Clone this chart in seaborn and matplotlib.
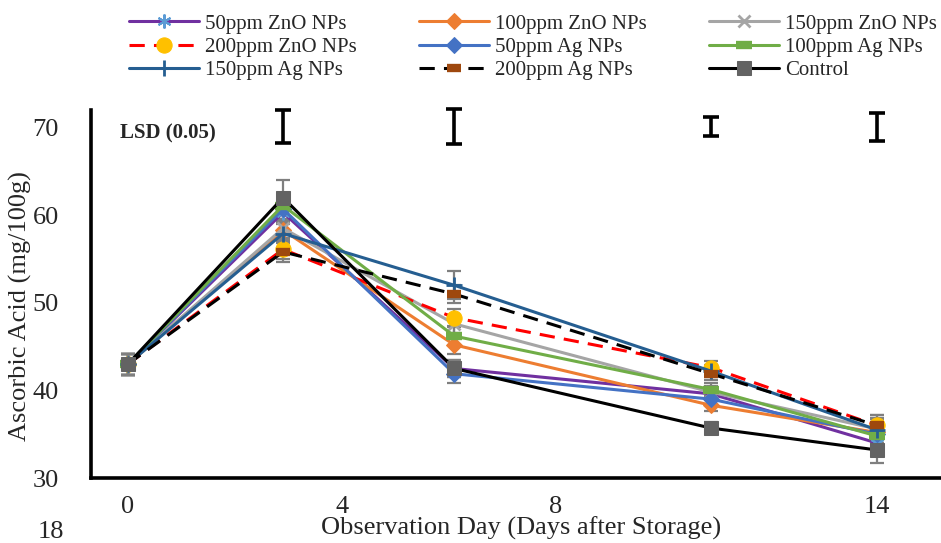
import matplotlib
matplotlib.use("Agg")
import matplotlib.pyplot as plt
import seaborn as sns
import pandas as pd

# Storage days at which ascorbic acid was measured
days = [0, 2.9, 6.1, 10.9, 14]
tick_days = [0, 4, 8, 14]

# Ascorbic acid (mg/100g) per treatment
zno_50 = [43.0, 60.3, 42.5, 39.6, 34.0]
zno_100 = [43.0, 58.3, 45.2, 38.3, 35.2]
zno_150 = [43.0, 58.5, 47.6, 39.8, 35.6]
zno_200 = [43.0, 56.1, 48.3, 42.6, 36.0]
ag_50 = [43.0, 60.7, 41.9, 39.0, 35.0]
ag_100 = [43.0, 61.1, 46.2, 40.1, 34.8]
ag_150 = [43.0, 57.9, 52.0, 42.2, 35.5]
ag_200 = [43.0, 55.8, 51.0, 41.9, 36.0]
control = [43.0, 62.0, 42.5, 35.7, 33.2]

# Standard errors
err_treat = [1.2, 1.1, 1.0, 0.7, 1.2]
err_150ag = [1.2, 1.1, 1.6, 0.7, 1.2]
err_control = [1.2, 2.0, 1.0, 0.7, 1.5]

# LSD (0.05) per sampling day (full bar length)
lsd_days = [2.9, 6.1, 10.9, 14]
lsd_values = [3.8, 4.0, 2.2, 3.2]

labels = ["50ppm ZnO NPs", "100ppm ZnO NPs", "150ppm ZnO NPs",
          "200ppm ZnO NPs", "50ppm Ag NPs", "100ppm Ag NPs",
          "150ppm Ag NPs", "200ppm Ag NPs", "Control"]
series = [zno_50, zno_100, zno_150, zno_200, ag_50, ag_100, ag_150, ag_200, control]
errors = [err_treat] * 6 + [err_150ag, err_treat, err_control]

styles = [
    dict(color="#7030A0", marker=(6, 2, 0), mfc="#5B9BD5", mec="#5B9BD5", ms=10, mew=1.5),
    dict(color="#ED7D31", marker="D", mfc="#ED7D31", mec="#ED7D31", ms=8),
    dict(color="#A5A5A5", marker="x", mfc="#A5A5A5", mec="#A5A5A5", ms=9, mew=2),
    dict(color="#FF0000", marker="o", mfc="#FFC000", mec="#FFC000", ms=11, dashes=(5, 3)),
    dict(color="#4472C4", marker="D", mfc="#4472C4", mec="#4472C4", ms=8),
    dict(color="#70AD47", marker="_", mfc="#70AD47", mec="#70AD47", ms=12, mew=6),
    dict(color="#255E91", marker="+", mfc="#255E91", mec="#255E91", ms=11, mew=2),
    dict(color="#000000", marker="_", mfc="#9E480E", mec="#9E480E", ms=10, mew=6, dashes=(5, 3)),
    dict(color="#000000", marker="s", mfc="#636363", mec="#636363", ms=10),
]

sns.set_theme(style="white")
plt.rcParams["font.family"] = ["Liberation Serif", "DejaVu Serif"]

fig = plt.figure(figsize=(9.41, 5.43), dpi=100)
ax = fig.add_axes([0.0967, 0.1197, 0.9033, 0.6777])

for lab, vals, errs, st in zip(labels, series, errors, styles):
    df = pd.DataFrame({"day": days, "aa": vals})
    st = dict(st)
    dashes = st.pop("dashes", None)
    sns.lineplot(data=df, x="day", y="aa", ax=ax, label=lab, lw=2.2,
                 **({"dashes": False} if dashes is None else {}), **st)
    if dashes is not None:
        ax.lines[-1].set_dashes(dashes)
    ax.errorbar(days, vals, yerr=errs, fmt="none", ecolor="#7F7F7F",
                elinewidth=1.6, capsize=5, capthick=1.6, zorder=1)

# LSD bars along the top
ax.errorbar(lsd_days, [70.1] * len(lsd_days), yerr=[v / 2 for v in lsd_values],
            fmt="none", ecolor="black", elinewidth=2.6, capsize=6, capthick=2.6,
            clip_on=False)
ax.text(-0.15, 69.3, "LSD (0.05)", fontsize=15, fontweight="bold", va="center", ha="left")

ax.set_xlim(-0.69, 15.2)
ax.set_ylim(30, 72)
ax.set_xticks(tick_days)
ax.set_xticklabels([str(d) for d in tick_days])
ax.set_yticks([30, 40, 50, 60, 70])
ax.tick_params(axis="both", length=0, labelsize=19, pad=13)
ax.tick_params(axis="y", pad=23)

for side in ["top", "right"]:
    ax.spines[side].set_visible(False)
for side in ["left", "bottom"]:
    ax.spines[side].set_color("black")
    ax.spines[side].set_linewidth(2.6)

ax.set_xlabel("Observation Day (Days after Storage)", fontsize=19)
ax.xaxis.set_label_coords(0.506, -0.104)
ax.set_ylabel("Ascorbic Acid (mg/100g)", fontsize=19)
ax.yaxis.set_label_coords(-0.069, 0.467)

# Legend filled row by row, three entries per row
handles, leg_labels = ax.get_legend_handles_labels()
ax.legend_.remove()
order = [0, 3, 6, 1, 4, 7, 2, 5, 8]
fig.legend([handles[i] for i in order], [leg_labels[i] for i in order],
           loc="upper left", bbox_to_anchor=(0.124, 0.997),
           ncol=3, frameon=False, fontsize=15, handlelength=3.35,
           handletextpad=0.3, columnspacing=2.98, labelspacing=0.18,
           borderaxespad=0.2)

fig.text(0.04, 0.04, "18", fontsize=19, va="top", ha="left")

fig.savefig("out.png", dpi=100)
